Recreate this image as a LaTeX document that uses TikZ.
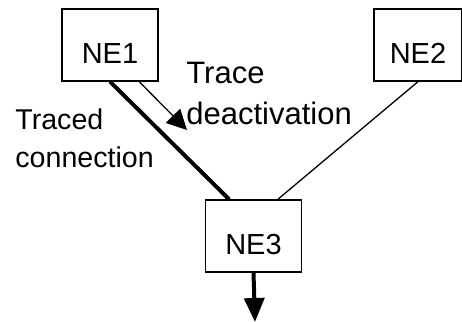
\documentclass[tikz,border=0pt]{standalone}
\usepackage{fontspec}
\setmainfont{Liberation Sans}
\usepackage{tikz}
\usetikzlibrary{arrows.meta, calc, positioning}

\begin{document}
\begin{tikzpicture}[x=0.5pt, y=-0.5pt,
    every node/.style = {font=\fontsize{14.5}{18.5}\selectfont},
    ne/.style    = {draw, line width=0.65pt, minimum width=48pt,
      minimum height=36pt, inner sep=0pt, text height=18.4pt, text depth=0pt},
    note/.style  = {align=left, inner sep=0pt, anchor=north west},
    traced/.style = {line width=2pt},
    plain/.style  = {line width=0.65pt}
  ]
  \useasboundingbox (0,0) rectangle (462,322);
  % network elements
  \node[ne] (ne1) at (110,45) {NE1};
  \node[ne, minimum width=44pt] (ne2) at (418,45) {NE2};
  \node[ne] (ne3) at (253.5,236) {NE3};
  % connections
  \draw[traced] (ne1.south) -- ($(ne3.north west)!0.25!(ne3.north east)$);
  \draw[plain] (ne2.south) -- ($(ne3.north west)!0.75!(ne3.north east)$);
  % deactivation message
  \coordinate (deact) at (187,130);
  \draw[plain, -{Triangle[length=10pt, width=10pt]}]
    ($(ne1.south west)!0.8!(ne1.south east)$) -- (deact);
  % outgoing
  \coordinate (out) at (255,322);
  \draw[traced, -{Triangle[length=12pt, width=10pt]}] (ne3.south) -- (out);
  % labels
  \node[note, font=\fontsize{15.5}{18.5}\selectfont] (deactlabel) at (186,62)
    {Trace\\[2pt]deactivation};
  \node[note, font=\fontsize{14.3}{17.5}\selectfont] (tracedlabel) at (15,108)
    {Traced\\[1.5pt]connection};
\end{tikzpicture}
\end{document}
